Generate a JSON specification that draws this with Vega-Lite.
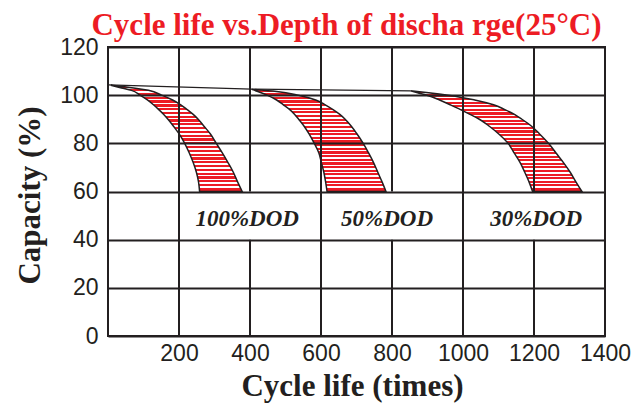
{
  "$schema": "https://vega.github.io/schema/vega-lite/v6.json",
  "width": 497,
  "height": 289,
  "autosize": {"type": "none"},
  "padding": {"left": 108, "top": 47, "right": 36, "bottom": 73},
  "background": "white",
  "title": {"text": "Cycle life vs.Depth of discha rge(25°C)", "font": "Liberation Serif", "fontWeight": "bold", "fontSize": 31, "color": "#ed1c24", "anchor": "middle", "frame": "group", "baseline": "bottom", "offset": 5, "dx": -10, "dy": 42},
  "config": {"view": {"stroke": "#231f20", "strokeWidth": 2}},
  "datasets": {
    "bands": [
      {"band": "100%DOD", "cap": 104.1, "xl": 8, "xr": 8},
      {"band": "100%DOD", "cap": 103, "xl": 38, "xr": 72},
      {"band": "100%DOD", "cap": 102, "xl": 66, "xr": 114},
      {"band": "100%DOD", "cap": 100, "xl": 90, "xr": 151},
      {"band": "100%DOD", "cap": 98, "xl": 111, "xr": 182},
      {"band": "100%DOD", "cap": 96, "xl": 128, "xr": 205},
      {"band": "100%DOD", "cap": 94, "xl": 143, "xr": 223},
      {"band": "100%DOD", "cap": 92, "xl": 157, "xr": 240},
      {"band": "100%DOD", "cap": 90, "xl": 169, "xr": 254},
      {"band": "100%DOD", "cap": 87, "xl": 185, "xr": 271},
      {"band": "100%DOD", "cap": 84, "xl": 200, "xr": 288},
      {"band": "100%DOD", "cap": 80, "xl": 216, "xr": 305},
      {"band": "100%DOD", "cap": 76, "xl": 229, "xr": 322},
      {"band": "100%DOD", "cap": 72, "xl": 240, "xr": 338},
      {"band": "100%DOD", "cap": 68, "xl": 249, "xr": 353},
      {"band": "100%DOD", "cap": 64, "xl": 255, "xr": 365},
      {"band": "100%DOD", "cap": 60, "xl": 258, "xr": 378},
      {"band": "50%DOD", "cap": 102.4, "xl": 405, "xr": 405},
      {"band": "50%DOD", "cap": 101.5, "xl": 422, "xr": 475},
      {"band": "50%DOD", "cap": 100, "xl": 448, "xr": 536},
      {"band": "50%DOD", "cap": 98, "xl": 475, "xr": 585},
      {"band": "50%DOD", "cap": 96, "xl": 494, "xr": 612},
      {"band": "50%DOD", "cap": 94, "xl": 512, "xr": 634},
      {"band": "50%DOD", "cap": 92, "xl": 526, "xr": 653},
      {"band": "50%DOD", "cap": 90, "xl": 537, "xr": 668},
      {"band": "50%DOD", "cap": 87, "xl": 553, "xr": 686},
      {"band": "50%DOD", "cap": 84, "xl": 566, "xr": 701},
      {"band": "50%DOD", "cap": 80, "xl": 581, "xr": 719},
      {"band": "50%DOD", "cap": 76, "xl": 594, "xr": 734},
      {"band": "50%DOD", "cap": 72, "xl": 601, "xr": 748},
      {"band": "50%DOD", "cap": 68, "xl": 608, "xr": 760},
      {"band": "50%DOD", "cap": 64, "xl": 613, "xr": 772},
      {"band": "50%DOD", "cap": 60, "xl": 617, "xr": 783},
      {"band": "30%DOD", "cap": 101.8, "xl": 852, "xr": 852},
      {"band": "30%DOD", "cap": 101, "xl": 872, "xr": 903},
      {"band": "30%DOD", "cap": 100, "xl": 898, "xr": 958},
      {"band": "30%DOD", "cap": 98, "xl": 934, "xr": 1033},
      {"band": "30%DOD", "cap": 96, "xl": 964, "xr": 1086},
      {"band": "30%DOD", "cap": 94, "xl": 993, "xr": 1118},
      {"band": "30%DOD", "cap": 92, "xl": 1020, "xr": 1145},
      {"band": "30%DOD", "cap": 90, "xl": 1046, "xr": 1166},
      {"band": "30%DOD", "cap": 87, "xl": 1075, "xr": 1194},
      {"band": "30%DOD", "cap": 84, "xl": 1100, "xr": 1215},
      {"band": "30%DOD", "cap": 80, "xl": 1127, "xr": 1241},
      {"band": "30%DOD", "cap": 76, "xl": 1144, "xr": 1262},
      {"band": "30%DOD", "cap": 72, "xl": 1161, "xr": 1283},
      {"band": "30%DOD", "cap": 68, "xl": 1174, "xr": 1302},
      {"band": "30%DOD", "cap": 64, "xl": 1186, "xr": 1318},
      {"band": "30%DOD", "cap": 60, "xl": 1196, "xr": 1335}
    ],
    "topline": [
      {"x": 0, "cap": 104.3},
      {"x": 405, "cap": 102.5},
      {"x": 852, "cap": 101.8}
    ],
    "vgrid": [
      {"gx": 200, "g1": 0, "g2": 120},
      {"gx": 400, "g1": 0, "g2": 40},
      {"gx": 400, "g1": 60, "g2": 120},
      {"gx": 600, "g1": 0, "g2": 120},
      {"gx": 800, "g1": 0, "g2": 40},
      {"gx": 800, "g1": 60, "g2": 120},
      {"gx": 1000, "g1": 0, "g2": 120},
      {"gx": 1200, "g1": 0, "g2": 40},
      {"gx": 1200, "g1": 60, "g2": 120}
    ],
    "labels": [
      {"x": 392, "cap": 45.7, "label": "100%DOD"},
      {"x": 786, "cap": 45.7, "label": "50%DOD"},
      {"x": 1206, "cap": 45.7, "label": "30%DOD"}
    ]
  },
  "layer": [
    {
      "data": {"name": "bands"},
      "mark": {
        "type": "area",
        "orient": "horizontal",
        "interpolate": "monotone",
        "stroke": "#231f20",
        "strokeWidth": 1.5,
        "fill": {
          "gradient": "linear", "x1": 0, "y1": 0, "x2": 0, "y2": 1,
          "stops": [
            {"offset": 0, "color": "#ed1c24"}, {"offset": 0.02143, "color": "#ed1c24"}, {"offset": 0.02143, "color": "#ffffff"}, {"offset": 0.03571, "color": "#ffffff"},
            {"offset": 0.03571, "color": "#ed1c24"}, {"offset": 0.05714, "color": "#ed1c24"}, {"offset": 0.05714, "color": "#ffffff"}, {"offset": 0.07143, "color": "#ffffff"},
            {"offset": 0.07143, "color": "#ed1c24"}, {"offset": 0.09286, "color": "#ed1c24"}, {"offset": 0.09286, "color": "#ffffff"}, {"offset": 0.10714, "color": "#ffffff"},
            {"offset": 0.10714, "color": "#ed1c24"}, {"offset": 0.12857, "color": "#ed1c24"}, {"offset": 0.12857, "color": "#ffffff"}, {"offset": 0.14286, "color": "#ffffff"},
            {"offset": 0.14286, "color": "#ed1c24"}, {"offset": 0.16429, "color": "#ed1c24"}, {"offset": 0.16429, "color": "#ffffff"}, {"offset": 0.17857, "color": "#ffffff"},
            {"offset": 0.17857, "color": "#ed1c24"}, {"offset": 0.2, "color": "#ed1c24"}, {"offset": 0.2, "color": "#ffffff"}, {"offset": 0.21429, "color": "#ffffff"},
            {"offset": 0.21429, "color": "#ed1c24"}, {"offset": 0.23571, "color": "#ed1c24"}, {"offset": 0.23571, "color": "#ffffff"}, {"offset": 0.25, "color": "#ffffff"},
            {"offset": 0.25, "color": "#ed1c24"}, {"offset": 0.27143, "color": "#ed1c24"}, {"offset": 0.27143, "color": "#ffffff"}, {"offset": 0.28571, "color": "#ffffff"},
            {"offset": 0.28571, "color": "#ed1c24"}, {"offset": 0.30714, "color": "#ed1c24"}, {"offset": 0.30714, "color": "#ffffff"}, {"offset": 0.32143, "color": "#ffffff"},
            {"offset": 0.32143, "color": "#ed1c24"}, {"offset": 0.34286, "color": "#ed1c24"}, {"offset": 0.34286, "color": "#ffffff"}, {"offset": 0.35714, "color": "#ffffff"},
            {"offset": 0.35714, "color": "#ed1c24"}, {"offset": 0.37857, "color": "#ed1c24"}, {"offset": 0.37857, "color": "#ffffff"}, {"offset": 0.39286, "color": "#ffffff"},
            {"offset": 0.39286, "color": "#ed1c24"}, {"offset": 0.41429, "color": "#ed1c24"}, {"offset": 0.41429, "color": "#ffffff"}, {"offset": 0.42857, "color": "#ffffff"},
            {"offset": 0.42857, "color": "#ed1c24"}, {"offset": 0.45, "color": "#ed1c24"}, {"offset": 0.45, "color": "#ffffff"}, {"offset": 0.46429, "color": "#ffffff"},
            {"offset": 0.46429, "color": "#ed1c24"}, {"offset": 0.48571, "color": "#ed1c24"}, {"offset": 0.48571, "color": "#ffffff"}, {"offset": 0.5, "color": "#ffffff"},
            {"offset": 0.5, "color": "#ed1c24"}, {"offset": 0.52143, "color": "#ed1c24"}, {"offset": 0.52143, "color": "#ffffff"}, {"offset": 0.53571, "color": "#ffffff"},
            {"offset": 0.53571, "color": "#ed1c24"}, {"offset": 0.55714, "color": "#ed1c24"}, {"offset": 0.55714, "color": "#ffffff"}, {"offset": 0.57143, "color": "#ffffff"},
            {"offset": 0.57143, "color": "#ed1c24"}, {"offset": 0.59286, "color": "#ed1c24"}, {"offset": 0.59286, "color": "#ffffff"}, {"offset": 0.60714, "color": "#ffffff"},
            {"offset": 0.60714, "color": "#ed1c24"}, {"offset": 0.62857, "color": "#ed1c24"}, {"offset": 0.62857, "color": "#ffffff"}, {"offset": 0.64286, "color": "#ffffff"},
            {"offset": 0.64286, "color": "#ed1c24"}, {"offset": 0.66429, "color": "#ed1c24"}, {"offset": 0.66429, "color": "#ffffff"}, {"offset": 0.67857, "color": "#ffffff"},
            {"offset": 0.67857, "color": "#ed1c24"}, {"offset": 0.7, "color": "#ed1c24"}, {"offset": 0.7, "color": "#ffffff"}, {"offset": 0.71429, "color": "#ffffff"},
            {"offset": 0.71429, "color": "#ed1c24"}, {"offset": 0.73571, "color": "#ed1c24"}, {"offset": 0.73571, "color": "#ffffff"}, {"offset": 0.75, "color": "#ffffff"},
            {"offset": 0.75, "color": "#ed1c24"}, {"offset": 0.77143, "color": "#ed1c24"}, {"offset": 0.77143, "color": "#ffffff"}, {"offset": 0.78571, "color": "#ffffff"},
            {"offset": 0.78571, "color": "#ed1c24"}, {"offset": 0.80714, "color": "#ed1c24"}, {"offset": 0.80714, "color": "#ffffff"}, {"offset": 0.82143, "color": "#ffffff"},
            {"offset": 0.82143, "color": "#ed1c24"}, {"offset": 0.84286, "color": "#ed1c24"}, {"offset": 0.84286, "color": "#ffffff"}, {"offset": 0.85714, "color": "#ffffff"},
            {"offset": 0.85714, "color": "#ed1c24"}, {"offset": 0.87857, "color": "#ed1c24"}, {"offset": 0.87857, "color": "#ffffff"}, {"offset": 0.89286, "color": "#ffffff"},
            {"offset": 0.89286, "color": "#ed1c24"}, {"offset": 0.91429, "color": "#ed1c24"}, {"offset": 0.91429, "color": "#ffffff"}, {"offset": 0.92857, "color": "#ffffff"},
            {"offset": 0.92857, "color": "#ed1c24"}, {"offset": 0.95, "color": "#ed1c24"}, {"offset": 0.95, "color": "#ffffff"}, {"offset": 0.96429, "color": "#ffffff"},
            {"offset": 0.96429, "color": "#ed1c24"}, {"offset": 1, "color": "#ed1c24"}
          ]
        }
      },
      "encoding": {
        "y": {"field": "cap", "type": "quantitative", "scale": {"domain": [0, 120], "nice": false},
          "axis": {"title": "Capacity (%)", "values": [0, 20, 40, 60, 80, 100, 120], "grid": true, "gridColor": "#231f20", "gridWidth": 2, "ticks": false, "domain": false, "labelFont": "Liberation Sans", "labelFontSize": 23, "labelColor": "#231f20", "labelPadding": 10, "labelFlush": false, "titleFont": "Liberation Serif", "titleFontWeight": "bold", "titleFontSize": 31, "titleColor": "#231f20", "titleX": -78, "titleY": 148, "titleAngle": -90, "titleAlign": "center", "titleBaseline": "middle", "zindex": 1}},
        "x": {"field": "xl", "type": "quantitative", "scale": {"domain": [0, 1400], "nice": false},
          "axis": {"title": "Cycle life (times)", "values": [200, 400, 600, 800, 1000, 1200, 1400], "format": "d", "grid": false, "ticks": false, "domain": false, "labelFont": "Liberation Sans", "labelFontSize": 23, "labelColor": "#231f20", "labelPadding": 6, "labelFlush": false, "labelOverlap": false, "titleFont": "Liberation Serif", "titleFontWeight": "bold", "titleFontSize": 31, "titleColor": "#231f20", "titleX": 244, "titleY": 59, "titleBaseline": "alphabetic"}},
        "x2": {"field": "xr"},
        "detail": {"field": "band", "type": "nominal"}
      }
    },
    {
      "data": {"name": "topline"},
      "mark": {"type": "line", "stroke": "#231f20", "strokeWidth": 1.2},
      "encoding": {
        "x": {"field": "x", "type": "quantitative", "title": "Cycle life (times)"},
        "y": {"field": "cap", "type": "quantitative", "title": "Capacity (%)"}
      }
    },
    {
      "data": {"name": "vgrid"},
      "mark": {"type": "rule", "stroke": "#231f20", "strokeWidth": 2},
      "encoding": {
        "x": {"field": "gx", "type": "quantitative", "title": "Cycle life (times)"},
        "y": {"field": "g1", "type": "quantitative", "title": "Capacity (%)"},
        "y2": {"field": "g2"}
      }
    },
    {
      "data": {"name": "labels"},
      "mark": {"type": "text", "font": "Liberation Serif", "fontWeight": "bold", "fontStyle": "italic", "fontSize": 23, "baseline": "alphabetic", "align": "center", "color": "#231f20"},
      "encoding": {
        "x": {"field": "x", "type": "quantitative", "title": "Cycle life (times)"},
        "y": {"field": "cap", "type": "quantitative", "title": "Capacity (%)"},
        "text": {"field": "label", "type": "nominal"}
      }
    }
  ]
}
